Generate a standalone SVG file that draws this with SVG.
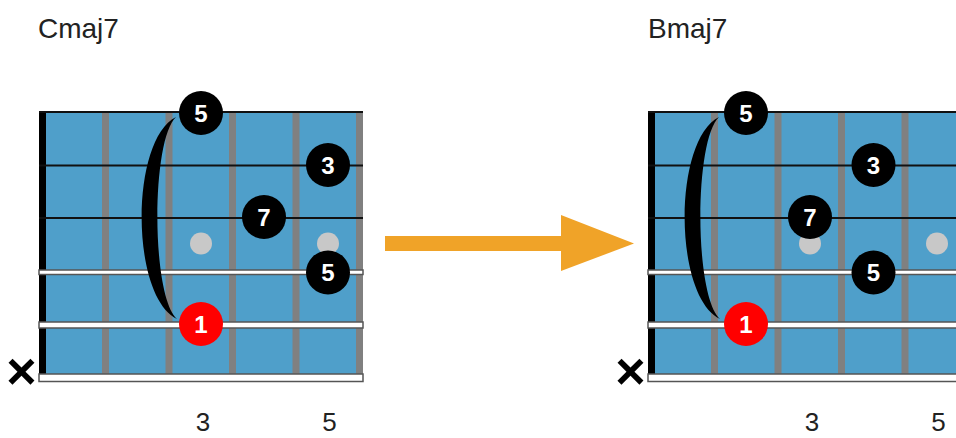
<svg xmlns="http://www.w3.org/2000/svg" xmlns:xlink="http://www.w3.org/1999/xlink" width="956" height="438" viewBox="0 0 956 438">
<style>
.title{font-family:"Liberation Sans",Arial,sans-serif;font-size:28px;fill:#222}
.fretnum{font-family:"Liberation Sans",Arial,sans-serif;font-size:26px;fill:#222;text-anchor:middle}
.dot{fill:#000}
.root{fill:#ff0000}
.dtxt{font-family:"Liberation Sans",Arial,sans-serif;font-size:24px;font-weight:bold;fill:#fff;text-anchor:middle}
.mute{font-family:"Liberation Sans",Arial,sans-serif;font-size:52px;font-weight:bold;fill:#000;text-anchor:middle}
.fret{fill:#808080}
.inlay{fill:#c8c8c8}
.thin{stroke:#111;stroke-width:2}
.wound{fill:#fff;stroke:#555;stroke-width:1.5}
.bracket{fill:#000}
</style>
<defs>
<g id="board">
<rect x="39" y="112" width="324" height="263" fill="#4f9fca"/>
<rect class="fret" x="102" y="112" width="7" height="263"/>
<rect class="fret" x="165.5" y="112" width="7" height="263"/>
<rect class="fret" x="229" y="112" width="7" height="263"/>
<rect class="fret" x="292.5" y="112" width="7" height="263"/>
<rect class="fret" x="356" y="112" width="7" height="263"/>
<rect x="39" y="112" width="7" height="263" fill="#000"/>
<circle class="inlay" cx="201" cy="243.5" r="11"/>
<circle class="inlay" cx="328" cy="243.5" r="11"/>
<line class="thin" x1="39" y1="112" x2="363" y2="112" stroke="#444"/>
<line class="thin" x1="39" y1="165.5" x2="363" y2="165.5"/>
<line class="thin" x1="39" y1="218" x2="363" y2="218"/>
<rect class="wound" x="39" y="270" width="324" height="4.5"/>
<rect class="wound" x="39" y="322" width="324" height="6"/>
<rect class="wound" x="39" y="374" width="324" height="7.5"/>
</g>
<path id="brk" d="M176,117 C130,140 130,296 177,319 C151,296 151,140 176,117 Z"/>
</defs>

<g id="chord-cmaj7">
<text class="title" x="38" y="38">Cmaj7</text>
<use xlink:href="#board"/>
<use xlink:href="#brk" class="bracket"/>
<g id="c-s1"><circle class="dot" cx="201" cy="113" r="22"/><text class="dtxt" x="201" y="121.5">5</text></g>
<g id="c-s2"><circle class="dot" cx="328" cy="165" r="22"/><text class="dtxt" x="328" y="173.5">3</text></g>
<g id="c-s3"><circle class="dot" cx="264" cy="217" r="22"/><text class="dtxt" x="264" y="225.5">7</text></g>
<g id="c-s4"><circle class="dot" cx="328" cy="272.5" r="22"/><text class="dtxt" x="328" y="281">5</text></g>
<g id="c-s5"><circle class="root" cx="201" cy="324" r="22"/><text class="dtxt" x="201" y="332.5">1</text></g>
<text class="mute" x="21.5" y="389">×</text>
<text class="fretnum" x="203" y="431">3</text>
<text class="fretnum" x="329.5" y="431">5</text>
</g>

<g id="chord-bmaj7">
<text class="title" x="648" y="38">Bmaj7</text>
<use xlink:href="#board" transform="translate(609,0)"/>
<use xlink:href="#brk" class="bracket" transform="translate(543,0)"/>
<g id="b-s1"><circle class="dot" cx="746" cy="113" r="22"/><text class="dtxt" x="746" y="121.5">5</text></g>
<g id="b-s2"><circle class="dot" cx="873.5" cy="165" r="22"/><text class="dtxt" x="873.5" y="173.5">3</text></g>
<g id="b-s3"><circle class="dot" cx="810" cy="217" r="22"/><text class="dtxt" x="810" y="225.5">7</text></g>
<g id="b-s4"><circle class="dot" cx="873.5" cy="272.5" r="22"/><text class="dtxt" x="873.5" y="281">5</text></g>
<g id="b-s5"><circle class="root" cx="746" cy="324" r="22"/><text class="dtxt" x="746" y="332.5">1</text></g>
<text class="mute" x="630.5" y="389">×</text>
<text class="fretnum" x="812" y="431">3</text>
<text class="fretnum" x="938.5" y="431">5</text>
</g>

<g id="connectors">
<rect x="385" y="236" width="177" height="15" fill="#f0a328"/>
<polygon points="561,215 634,243.5 561,271" fill="#f0a328"/>
</g>
</svg>
